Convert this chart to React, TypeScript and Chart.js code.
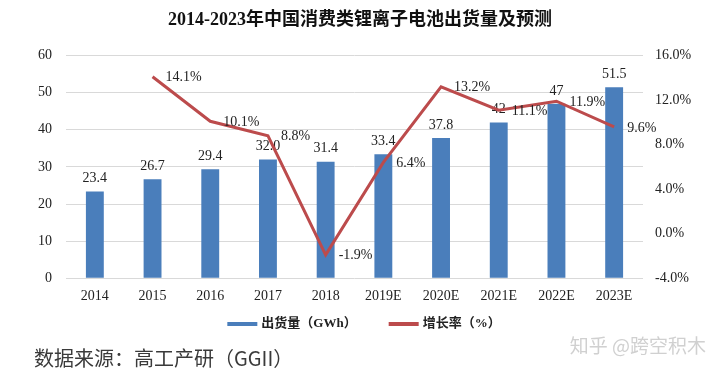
import React, { useEffect, useRef } from "react";
import { Chart, registerables } from "chart.js";

Chart.register(...registerables);

const years = ["2014", "2015", "2016", "2017", "2018", "2019E", "2020E", "2021E", "2022E", "2023E"];
const shipments = [23.4, 26.7, 29.4, 32.0, 31.4, 33.4, 37.8, 42, 47, 51.5];
const shipmentLabels = ["23.4", "26.7", "29.4", "32.0", "31.4", "33.4", "37.8", "42", "47", "51.5"];
const growth = [null, 14.1, 10.1, 8.8, -1.9, 6.4, 13.2, 11.1, 11.9, 9.6];
const growthLabels = ["", "14.1%", "10.1%", "8.8%", "-1.9%", "6.4%", "13.2%", "11.1%", "11.9%", "9.6%"];

const titleText = "2014-2023年中国消费类锂离子电池出货量及预测";
const sourceText = "数据来源：高工产研（GGII）";
const watermarkText = "知乎 @跨空积木";

const SERIF = "'Liberation Serif', 'Times New Roman', 'Noto Sans CJK SC', serif";
const BLUE = "#4A7EBB";
const RED = "#BC4B4C";

const labelPlugin = {
  id: "labels",
  beforeDatasetsDraw(chart: any) {
    const ctx = chart.ctx;
    const meta = chart.getDatasetMeta(0);
    ctx.save();
    ctx.font = "14px " + SERIF;
    ctx.fillStyle = "#222";
    ctx.textAlign = "center";
    ctx.textBaseline = "middle";
    meta.data.forEach((el: any, i: number) => {
      ctx.fillText(shipmentLabels[i], el.x, el.y - 13);
    });
    ctx.restore();
  },
  afterDatasetsDraw(chart: any) {
    const ctx = chart.ctx;
    const meta = chart.getDatasetMeta(1);
    ctx.save();
    ctx.font = "14px " + SERIF;
    ctx.fillStyle = "#222";
    ctx.textAlign = "left";
    ctx.textBaseline = "middle";
    meta.data.forEach((el: any, i: number) => {
      if (growth[i] === null) return;
      ctx.fillText(growthLabels[i], el.x + 13, el.y + 1);
    });
    ctx.restore();
  },
  afterDraw(chart: any) {
    const ctx = chart.ctx;
    ctx.save();
    // legend
    const items = chart.data.datasets.map((d: any) => ({ text: d.label, color: d.borderColor || d.backgroundColor }));
    ctx.font = "bold 13px " + SERIF;
    ctx.textBaseline = "middle";
    ctx.textAlign = "left";
    const sw = 30, gapText = 4, gapItem = 32;
    const widths = items.map((it: any) => sw + gapText + ctx.measureText(it.text).width);
    const total = widths.reduce((a: number, b: number) => a + b, 0) + gapItem * (items.length - 1);
    let x = 364 - total / 2;
    const ly = 324;
    items.forEach((it: any, i: number) => {
      ctx.fillStyle = it.color;
      ctx.fillRect(x, ly - 2, sw, 4);
      ctx.fillStyle = "#222";
      ctx.fillText(it.text, x + sw + gapText, ly);
      x += widths[i] + gapItem;
    });
    // source
    ctx.font = "20px 'Noto Sans CJK SC', sans-serif";
    ctx.fillStyle = "#3a3a3a";
    ctx.fillText(sourceText, 34, 358);
    ctx.font = "19px 'Noto Sans CJK SC', sans-serif";
    ctx.fillStyle = "#d0d0d0";
    ctx.textAlign = "right";
    ctx.fillText(watermarkText, 706, 346);
    ctx.restore();
  },
};

export default function App() {
  const ref = useRef<HTMLCanvasElement | null>(null);
  useEffect(() => {
    document.body.style.margin = "0";
    const canvas = ref.current;
    if (!canvas) return;
    const chart = new Chart(canvas, {
      type: "bar",
      data: {
        labels: years,
        datasets: [
          {
            type: "bar",
            label: "出货量（GWh）",
            data: shipments,
            backgroundColor: BLUE,
            borderWidth: 0,
            yAxisID: "y",
            order: 1,
            barPercentage: 0.62,
            categoryPercentage: 0.5,
          },
          {
            type: "line",
            label: "增长率（%）",
            data: growth,
            borderColor: RED,
            backgroundColor: RED,
            borderWidth: 3,
            pointRadius: 0,
            tension: 0,
            yAxisID: "y1",
            order: 0,
          } as any,
        ],
      },
      options: {
        animation: false,
        responsive: false,
        maintainAspectRatio: false,
        layout: { padding: { left: 0, right: 0, top: 0, bottom: 71 } },
        plugins: {
          title: {
            display: true,
            text: titleText,
            color: "#111",
            font: { family: SERIF, size: 18, weight: "bold" },
            padding: { top: 10, bottom: 24 },
          },
          legend: { display: false },
          tooltip: { enabled: false },
        },
        scales: {
          x: {
            grid: { display: false },
            border: { display: false },
            ticks: { color: "#222", font: { family: SERIF, size: 14 }, padding: 2 },
          },
          y: {
            position: "left",
            min: 0,
            max: 60,
            ticks: { stepSize: 10, color: "#222", font: { family: SERIF, size: 14 }, padding: 14 },
            grid: { color: "#d9d9d9", lineWidth: 1, drawTicks: false },
            border: { display: false },
            afterFit(scale: any) {
              scale.width = 66;
            },
          },
          y1: {
            position: "right",
            min: -4,
            max: 16,
            ticks: {
              stepSize: 4,
              color: "#222",
              font: { family: SERIF, size: 14 },
              padding: 12,
              callback: (v: any) => Number(v).toFixed(1) + "%",
            },
            grid: { display: false, drawTicks: false },
            border: { display: false },
            afterFit(scale: any) {
              scale.width = 77;
            },
          },
        },
      },
      plugins: [labelPlugin],
    });
    return () => chart.destroy();
  }, []);
  return (
    <div style={{ width: 720, height: 378, background: "#fff" }}>
      <canvas ref={ref} width={720} height={378} style={{ display: "block" }} />
    </div>
  );
}
